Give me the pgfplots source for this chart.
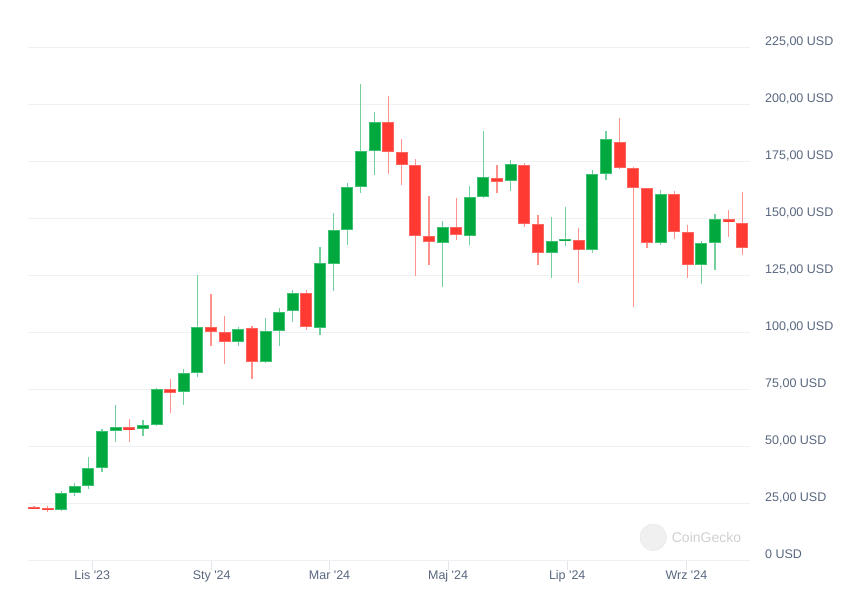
\documentclass[border=0pt]{standalone}
\usepackage{fontspec}
\setmainfont{Liberation Sans}[Ligatures=TeXOff]
\usepackage{pgfplots}
\usepackage{pgfplotstable}
\pgfplotsset{compat=1.18}
\definecolor{gup}{HTML}{00A83E}
\definecolor{gupb}{HTML}{3DC274}
\definecolor{gupw}{HTML}{74D19D}
\definecolor{rdn}{HTML}{FF3A33}
\definecolor{rdnb}{HTML}{FF6660}
\definecolor{rdnw}{HTML}{FF928D}
\definecolor{gridc}{HTML}{EEF0F3}
\definecolor{tickc}{HTML}{E2E5EA}
\definecolor{lab}{HTML}{58667E}
\definecolor{wm}{HTML}{CFCFCF}

\pgfplotstableread{
i o h l c
2 22.0 30.5 21.8 29.5
3 29.5 34.0 28.4 32.5
4 32.5 45.4 31.1 40.4
5 40.4 57.7 38.7 56.8
6 56.7 68.2 52.1 58.4
8 57.5 61.6 54.3 59.3
9 59.3 75.5 58.8 75.1
11 73.8 84.0 67.9 82.1
12 82.1 125.2 80.6 102.3
15 95.7 102.4 93.8 101.4
17 86.9 106.4 86.5 100.5
18 100.5 110.7 93.8 108.9
19 109.3 118.6 104.3 117.2
21 101.8 137.5 98.9 130.4
22 129.9 152.4 117.9 144.8
23 144.8 165.6 138.5 163.7
24 163.7 209.0 161.3 179.5
25 179.5 196.7 168.8 192.2
30 139.1 148.8 119.7 146.1
32 142.2 164.3 138.5 159.3
33 159.3 188.4 158.8 168.1
35 166.3 175.7 161.9 173.9
38 134.7 150.5 123.6 140.0
39 140.0 154.9 137.8 141.0
41 136.1 171.1 134.6 169.4
42 169.4 188.2 166.8 184.7
46 139.1 162.5 138.1 160.6
49 129.5 140.0 121.4 139.1
50 139.1 152.0 127.5 149.6
}\upt

\pgfplotstableread{
i o h l c
0 23.2 23.6 22.6 22.8
1 22.9 24.0 21.4 22.0
7 58.2 62.1 52.1 57.4
10 75.1 79.6 64.8 73.3
13 102.3 116.9 94.1 100.1
14 100.1 107.2 85.9 95.7
16 101.8 102.9 79.5 86.9
20 117.2 118.6 100.8 102.3
26 192.2 203.7 169.6 179.0
27 179.0 184.9 164.4 173.3
28 173.3 176.0 124.5 142.2
29 142.2 159.7 129.3 139.6
31 146.1 159.0 140.7 142.6
34 167.6 173.5 161.3 165.9
36 173.5 174.3 146.4 147.5
37 147.5 151.4 129.7 134.7
40 140.4 145.7 121.8 136.1
43 183.4 194.1 171.5 172.0
44 172.0 172.5 111.1 163.2
45 163.2 163.5 136.8 139.1
47 160.6 162.1 141.1 144.0
48 144.0 147.0 123.6 129.5
51 149.6 153.7 141.6 148.3
52 147.9 161.6 134.1 136.9
}\dnt

\pgfplotsset{
  cwick/.style={draw=none, mark=none, forget plot,
    error bars/.cd, y dir=both, y explicit, error mark=none,
    error bar style={line width=1.2pt, draw=#1, solid}},
  cbody/.style 2 args={draw=none, mark=none, forget plot,
    error bars/.cd, y dir=both, y explicit, error mark=none,
    error bar style={line width=#2, draw=#1, solid}},
}

\begin{document}
\begin{tikzpicture}
\useasboundingbox (-28pt,-31.7pt) rectangle (834pt,560.3pt);
\begin{axis}[
  at={(0,0)}, anchor=south west,
  scale only axis, width=722pt, height=513pt,
  xmin=-0.44, xmax=52.57, ymin=0, ymax=225,
  clip=false,
  axis x line*=bottom, axis y line*=right,
  x axis line style={draw=gridc, line width=0.9pt, -},
  y axis line style={draw=none},
  ymajorgrids, grid style={draw=gridc, line width=0.9pt},
  ytick={0,25,...,225},
  yticklabels={{0 USD},{25,00 USD},{50,00 USD},{75,00 USD},{100,00 USD},{125,00 USD},{150,00 USD},{175,00 USD},{200,00 USD},{225,00 USD}},
  ytick style={draw=none},
  yticklabel style={anchor=base west, inner sep=0pt, xshift=5pt, yshift=2pt, font=\fontsize{12.5}{14}\selectfont, text=lab},
  xtick={4.28,13.05,21.7,30.4,39.15,47.9},
  xticklabels={Lis '23,Sty '24,Mar '24,Maj '24,Lip '24,Wrz '24},
  xtick style={draw=tickc, line width=0.9pt},
  tick align=outside, major tick length=10pt,
  xticklabel style={anchor=base, inner sep=0pt, yshift=-9pt, font=\fontsize{12.5}{14}\selectfont, text=lab},
]
\node[circle, fill=black!6, draw=black!9, minimum size=26.6pt, inner sep=0pt] at (rel axis cs:0.866,0.0448) {};
\node[anchor=west, inner sep=0pt, text=wm, font=\fontsize{14}{16}\selectfont] at (rel axis cs:0.8915,0.0448) {CoinGecko};

\addplot[cwick=gupw] table[x=i, y expr={(\thisrow{h}+\thisrow{l})/2}, y error expr={(\thisrow{h}-\thisrow{l})/2}] {\upt};
\addplot[cwick=rdnw] table[x=i, y expr={(\thisrow{h}+\thisrow{l})/2}, y error expr={(\thisrow{h}-\thisrow{l})/2}] {\dnt};

\addplot[cbody={gupb}{12pt}] table[x=i, y expr={(\thisrow{o}+\thisrow{c})/2}, y error expr={max(abs(\thisrow{c}-\thisrow{o})/2,0.5)}] {\upt};
\addplot[cbody={rdnb}{12pt}] table[x=i, y expr={(\thisrow{o}+\thisrow{c})/2}, y error expr={max(abs(\thisrow{c}-\thisrow{o})/2,0.5)}] {\dnt};
\addplot[cbody={gup}{10pt}] table[x=i, y expr={(\thisrow{o}+\thisrow{c})/2}, y error expr={max(abs(\thisrow{c}-\thisrow{o})/2-0.44,0.06)}] {\upt};
\addplot[cbody={rdn}{10pt}] table[x=i, y expr={(\thisrow{o}+\thisrow{c})/2}, y error expr={max(abs(\thisrow{c}-\thisrow{o})/2-0.44,0.06)}] {\dnt};
\end{axis}
\end{tikzpicture}
\end{document}
